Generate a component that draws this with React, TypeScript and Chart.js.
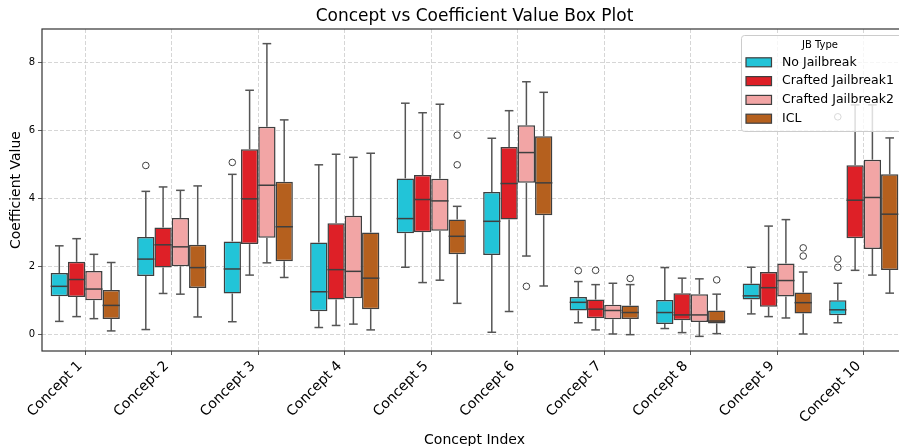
import React, { useEffect, useRef } from "react";
import { Chart, registerables } from "chart.js";

Chart.register(...registerables);

const FONT = "'DejaVu Sans', 'Liberation Sans', sans-serif";

const concepts = [
  "Concept 1", "Concept 2", "Concept 3", "Concept 4", "Concept 5",
  "Concept 6", "Concept 7", "Concept 8", "Concept 9", "Concept 10",
];

const seriesNames = ["No Jailbreak", "Crafted Jailbreak1", "Crafted Jailbreak2", "ICL"];
const seriesColors = ["#22c4d8", "#de2027", "#f2a5a5", "#b5601e"];

// [whisker low, Q1, median, Q3, whisker high] per concept
const noJailbreak = [
  [0.39, 1.13, 1.42, 1.81, 2.61],
  [0.15, 1.72, 2.22, 2.87, 4.21],
  [0.38, 1.21, 1.93, 2.74, 4.71],
  [0.21, 0.69, 1.26, 2.71, 4.99],
  [1.98, 2.98, 3.41, 4.59, 6.8],
  [0.07, 2.34, 3.33, 4.19, 5.77],
  [0.35, 0.71, 0.95, 1.11, 1.56],
  [0.18, 0.31, 0.65, 1.02, 1.97],
  [0.61, 1.03, 1.14, 1.5, 1.98],
  [0.35, 0.57, 0.73, 1.01, 1.51],
];
const craftedJailbreak1 = [
  [0.53, 1.11, 1.62, 2.14, 2.82],
  [1.21, 1.97, 2.64, 3.15, 4.34],
  [1.75, 2.66, 3.99, 5.45, 7.18],
  [0.27, 1.03, 1.91, 3.27, 5.3],
  [1.53, 3.01, 3.97, 4.69, 6.52],
  [0.68, 3.38, 4.44, 5.51, 6.58],
  [0.14, 0.48, 0.75, 1.03, 1.47],
  [0.06, 0.42, 0.58, 1.22, 1.66],
  [0.53, 0.82, 1.38, 1.84, 3.19],
  [1.89, 2.83, 3.95, 4.98, 6.75],
];
const craftedJailbreak2 = [
  [0.47, 1.01, 1.34, 1.87, 2.36],
  [1.19, 2.01, 2.58, 3.43, 4.24],
  [2.11, 2.85, 4.39, 6.11, 8.55],
  [0.31, 1.07, 1.86, 3.49, 5.21],
  [1.6, 3.05, 3.93, 4.58, 6.77],
  [2.31, 4.46, 5.35, 6.15, 7.43],
  [0.02, 0.45, 0.71, 0.88, 1.51],
  [-0.05, 0.37, 0.58, 1.19, 1.64],
  [0.49, 1.12, 1.59, 2.09, 3.38],
  [1.75, 2.52, 4.03, 5.14, 6.75],
];
const icl = [
  [0.11, 0.46, 0.86, 1.31, 2.12],
  [0.52, 1.37, 1.97, 2.64, 4.37],
  [1.68, 2.16, 3.17, 4.49, 6.31],
  [0.14, 0.75, 1.66, 3.0, 5.33],
  [0.92, 2.36, 2.89, 3.38, 3.77],
  [1.43, 3.51, 4.46, 5.83, 7.12],
  [0.0, 0.46, 0.65, 0.86, 1.47],
  [0.03, 0.33, 0.4, 0.71, 1.19],
  [0.02, 0.62, 0.94, 1.24, 1.84],
  [1.22, 1.9, 3.54, 4.71, 5.78],
];

// outliers: [concept index, value]
const noJailbreakOutliers = [[1, 4.97], [2, 5.06], [6, 1.88], [9, 1.98], [9, 2.22], [9, 6.4]];
const craftedJailbreak1Outliers = [[6, 1.89]];
const craftedJailbreak2Outliers = [[5, 1.42]];
const iclOutliers = [[4, 4.99], [4, 5.86], [6, 1.65], [7, 1.61], [8, 2.31], [8, 2.55]];

const yTickValues = [0, 2, 4, 6, 8];

const boxStats = [noJailbreak, craftedJailbreak1, craftedJailbreak2, icl];
const outlierSets = [noJailbreakOutliers, craftedJailbreak1Outliers, craftedJailbreak2Outliers, iclOutliers];

const LINE = "#3f3f3f";
const WHISKER = "#555555";

const boxPlugin = {
  id: "boxWhiskers",
  afterDatasetsDraw(chart: any) {
    const ctx = chart.ctx;
    const y = chart.scales.y;
    const line = (x1: number, y1: number, x2: number, y2: number) => {
      ctx.beginPath();
      ctx.moveTo(x1, y1);
      ctx.lineTo(x2, y2);
      ctx.stroke();
    };
    chart.data.datasets.forEach((_ds: any, di: number) => {
      const meta = chart.getDatasetMeta(di);
      const stats = boxStats[di];
      ctx.save();
      ctx.lineWidth = 1.5;
      meta.data.forEach((el: any, j: number) => {
        const { x, width } = el.getProps(["x", "width"], true);
        const [lo, q1, med, q3, hi] = stats[j];
        const pLo = y.getPixelForValue(lo);
        const pQ1 = y.getPixelForValue(q1);
        const pMed = y.getPixelForValue(med);
        const pQ3 = y.getPixelForValue(q3);
        const pHi = y.getPixelForValue(hi);
        const cw = width / 4;
        ctx.strokeStyle = WHISKER;
        line(x, pQ3, x, pHi);
        line(x, pQ1, x, pLo);
        line(x - cw, pHi, x + cw, pHi);
        line(x - cw, pLo, x + cw, pLo);
        ctx.strokeStyle = LINE;
        line(x - width / 2, pMed, x + width / 2, pMed);
      });
      ctx.strokeStyle = LINE;
      ctx.lineWidth = 1;
      outlierSets[di].forEach(([ci, v]) => {
        const el = meta.data[ci];
        ctx.beginPath();
        ctx.arc(el.x, y.getPixelForValue(v), 3.3, 0, Math.PI * 2);
        ctx.stroke();
      });
      ctx.restore();
    });
    // axes frame (spines)
    const a = chart.chartArea;
    ctx.save();
    ctx.strokeStyle = "#333333";
    ctx.lineWidth = 1.2;
    ctx.strokeRect(a.left, a.top, a.right - a.left, a.bottom - a.top);
    ctx.restore();
  },
  afterDraw(chart: any) {
    const ctx = chart.ctx;
    const a = chart.chartArea;
    const left = a.right - 166;
    const top = a.top + 6;
    const w = 162;
    const h = 96;
    ctx.save();
    ctx.fillStyle = "rgba(255,255,255,0.8)";
    ctx.strokeStyle = "#cccccc";
    ctx.lineWidth = 1;
    ctx.beginPath();
    ctx.roundRect(left + 0.5, top + 0.5, w, h, 3);
    ctx.fill();
    ctx.stroke();
    ctx.fillStyle = "#000";
    ctx.textBaseline = "middle";
    ctx.textAlign = "center";
    ctx.font = `10px ${FONT}`;
    ctx.fillText("JB Type", left + 79, top + 10);
    ctx.textAlign = "left";
    ctx.font = `12.5px ${FONT}`;
    seriesNames.forEach((name, i) => {
      const cy = top + 27.3 + i * 18.8;
      ctx.fillStyle = seriesColors[i];
      ctx.fillRect(left + 5, cy - 4.5, 25.5, 9);
      ctx.strokeStyle = LINE;
      ctx.lineWidth = 1.2;
      ctx.strokeRect(left + 5, cy - 4.5, 25.5, 9);
      ctx.fillStyle = "#000";
      ctx.fillText(name, left + 41, cy);
    });
    ctx.restore();
  },
};

export default function App() {
  const ref = useRef<HTMLCanvasElement | null>(null);

  useEffect(() => {
    if (!ref.current) return;
    const chart = new Chart(ref.current, {
      type: "bar",
      data: {
        labels: concepts,
        datasets: seriesNames.map((name, i) => ({
          label: name,
          data: boxStats[i].map((s) => [s[1], s[3]]),
          backgroundColor: seriesColors[i],
          borderColor: LINE,
          borderWidth: 1.5,
          borderSkipped: false,
          categoryPercentage: 0.8,
          barPercentage: 1.0,
        })),
      },
      options: {
        animation: false,
        responsive: false,
        layout: { padding: { left: 0, right: 8, top: 0, bottom: 0 } },
        plugins: {
          legend: { display: false },
          tooltip: { enabled: false },
          title: {
            display: true,
            text: "Concept vs Coefficient Value Box Plot",
            color: "#000",
            font: { family: FONT, size: 17, weight: "normal" },
            padding: { top: 6, bottom: 2.6 },
            fullSize: false,
          },
        },
        scales: {
          x: {
            type: "category",
            offset: true,
            grid: {
              offset: false,
              color: "#cccccc",
              lineWidth: 0.8,
              tickColor: "#333333",
              tickLength: 4,
            },
            border: { display: false, dash: [4, 2] },
            ticks: {
              font: { family: FONT, size: 14 },
              color: "#000",
              maxRotation: 45,
              minRotation: 45,
              autoSkip: false,
              padding: 3,
              labelOffset: -5,
            },
            title: {
              display: true,
              text: "Concept Index",
              color: "#000",
              font: { family: FONT, size: 14 },
              padding: { top: 0, bottom: -2.5 },
            },
            afterFit: (s: any) => {
              s.height = 95;
            },
          },
          y: {
            type: "linear",
            min: -0.48,
            max: 8.98,
            afterBuildTicks: (s: any) => {
              s.ticks = yTickValues.map((v) => ({ value: v }));
            },
            grid: {
              color: "#cccccc",
              lineWidth: 0.8,
              tickColor: "#333333",
              tickLength: 4,
            },
            border: { display: false, dash: [4, 2] },
            ticks: {
              font: { family: FONT, size: 10 },
              color: "#000",
              padding: 3,
            },
            title: {
              display: true,
              text: "Coefficient Value",
              color: "#000",
              font: { family: FONT, size: 14 },
              padding: { top: 8, bottom: 0 },
            },
            afterFit: (s: any) => {
              s.width = 42;
            },
          },
        },
      },
      plugins: [boxPlugin],
    } as any);
    return () => chart.destroy();
  }, []);

  return (
    <div
      style={{
        position: "absolute",
        left: 0,
        top: 0,
        width: 899,
        height: 446,
        overflow: "hidden",
        background: "#fff",
      }}
    >
      <canvas ref={ref} width={915} height={446} style={{ display: "block" }} />
    </div>
  );
}
